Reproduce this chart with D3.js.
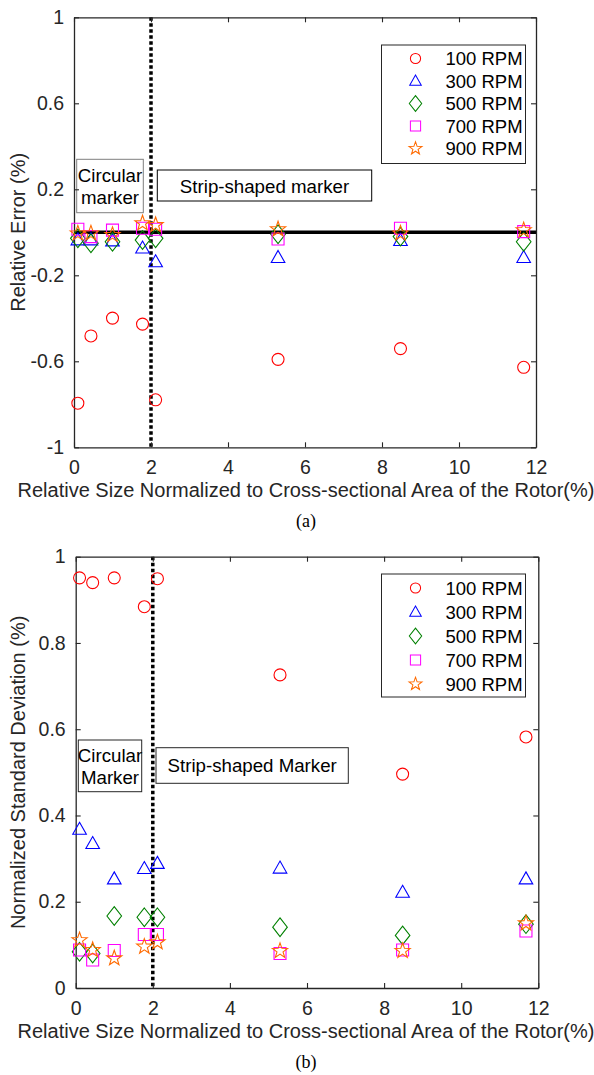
<!DOCTYPE html>
<html>
<head>
<meta charset="utf-8">
<script src="https://cdn.jsdelivr.net/npm/d3@7"></script>
<style>
  body { margin: 0; background: #fff; }
  svg { display: block; font-family: Arial, "Liberation Sans", sans-serif; }
</style>
</head>
<body>
<svg id="fig" width="594" height="1075"></svg>
<script>
// Data
// ==============================
var sizes = [0.1, 0.44, 1.0, 1.78, 2.12, 5.3, 8.48, 11.68];
var rpmLabels = ["100 RPM", "300 RPM", "500 RPM", "700 RPM", "900 RPM"];

// (a) relative error
var err100 = [-0.795, -0.482, -0.399, -0.427, -0.779, -0.591, -0.541, -0.628];
var err300 = [-0.035, -0.035, -0.04, -0.073, -0.137, -0.117, -0.038, -0.117];
var err500 = [-0.028, -0.051, -0.044, -0.036, -0.028, -0.009, -0.02, -0.044];
var err700 = [0.014, -0.02, 0.01, 0.019, 0.014, -0.031, 0.019, 0.003];
var err900 = [-0.005, -0.005, -0.012, 0.042, 0.034, 0.014, -0.005, 0.01];

// (b) normalized standard deviation
var sd100 = [0.951, 0.94, 0.951, 0.884, 0.949, 0.726, 0.496, 0.582];
var sd300 = [0.368, 0.335, 0.253, 0.277, 0.289, 0.278, 0.222, 0.253];
var sd500 = [0.084, 0.08, 0.167, 0.164, 0.164, 0.141, 0.122, 0.148];
var sd700 = [0.088, 0.065, 0.087, 0.124, 0.124, 0.08, 0.088, 0.132];
var sd900 = [0.111, 0.088, 0.069, 0.096, 0.106, 0.086, 0.086, 0.15];

var xTicks = [0, 2, 4, 6, 8, 10, 12];
var errTicks = [-1, -0.6, -0.2, 0.2, 0.6, 1];
var sdTicks = [0, 0.2, 0.4, 0.6, 0.8, 1];
var boundary = 2;

var colors = ["#ff0000", "#0000ff", "#008000", "#ff00ff", "#ff6a00"];
var shapes = ["circle", "triangle", "diamond", "square", "star"];

var svg = d3.select("#fig");
var ink = "#262626";

// marker path centred at 0,0
function markerPath(shape) {
  var p = d3.path();
  if (shape === "circle") {
    p.arc(0, 0, 6, 0, 2 * Math.PI);
  } else if (shape === "triangle") {
    p.moveTo(0, -7); p.lineTo(6.8, 5); p.lineTo(-6.8, 5); p.closePath();
  } else if (shape === "diamond") {
    p.moveTo(0, -9.3); p.lineTo(7.3, 0); p.lineTo(0, 9.3); p.lineTo(-7.3, 0); p.closePath();
  } else if (shape === "square") {
    p.rect(-6, -6, 12, 12);
  } else {
    for (var i = 0; i < 10; i++) {
      var r = i % 2 === 0 ? 8 : 3.2;
      var a = -Math.PI / 2 + i * Math.PI / 5;
      if (i === 0) p.moveTo(r * Math.cos(a), r * Math.sin(a));
      else p.lineTo(r * Math.cos(a), r * Math.sin(a));
    }
    p.closePath();
  }
  return p.toString();
}

function drawPanel(cfg) {
  var x = d3.scaleLinear().domain([0, 12]).range([cfg.left, cfg.right]);
  var y = d3.scaleLinear().domain(cfg.yDomain).range([cfg.bottom, cfg.top]);
  var g = svg.append("g");

  // text boxes
  cfg.boxes.forEach(function(b) {
    g.append("rect")
      .attr("x", b.x).attr("y", b.y).attr("width", b.w).attr("height", b.h)
      .attr("fill", "#fff").attr("stroke", b.stroke).attr("stroke-width", 1);
    b.lines.forEach(function(t, i) {
      g.append("text")
        .attr("x", b.x + b.w / 2).attr("y", b.base + i * 22)
        .attr("text-anchor", "middle").attr("font-size", 18.7).attr("fill", "#000")
        .text(t);
    });
  });

  // zero reference line
  if (cfg.zeroLine) {
    g.append("line")
      .attr("x1", x(0)).attr("x2", x(12)).attr("y1", y(0)).attr("y2", y(0))
      .attr("stroke", "#000").attr("stroke-width", 3.5);
  }

  // marker size boundary
  g.append("line")
    .attr("x1", x(boundary)).attr("x2", x(boundary))
    .attr("y1", cfg.top).attr("y2", cfg.bottom)
    .attr("stroke", "#000").attr("stroke-width", 3.5)
    .attr("stroke-dasharray", "3.5,2.5");

  // axes with inward ticks, box on
  g.append("g").attr("transform", "translate(0," + cfg.bottom + ")")
    .call(d3.axisBottom(x).tickValues(xTicks).tickSizeInner(-5).tickSizeOuter(0).tickPadding(13).tickFormat(d3.format("d")));
  g.append("g").attr("transform", "translate(0," + cfg.top + ")")
    .call(d3.axisTop(x).tickValues(xTicks).tickSizeInner(-5).tickSizeOuter(0).tickFormat(""));
  g.append("g").attr("transform", "translate(" + cfg.left + ",0)")
    .call(d3.axisLeft(y).tickValues(cfg.yTicks).tickSizeInner(-5).tickSizeOuter(0).tickPadding(10).tickFormat(function(d) { return String(d); }));
  g.append("g").attr("transform", "translate(" + cfg.right + ",0)")
    .call(d3.axisRight(y).tickValues(cfg.yTicks).tickSizeInner(-5).tickSizeOuter(0).tickFormat(""));
  g.selectAll(".domain").attr("stroke", ink).attr("stroke-width", 1.3);
  g.selectAll(".tick line").attr("stroke", ink).attr("stroke-width", 1.1);
  g.selectAll(".tick text").attr("font-size", 19.5).attr("fill", ink).attr("font-family", "Arial, 'Liberation Sans', sans-serif");

  // series
  cfg.series.forEach(function(vals, s) {
    g.selectAll(null)
      .data(vals)
      .enter().append("path")
      .attr("d", markerPath(shapes[s]))
      .attr("transform", function(d, i) { return "translate(" + x(sizes[i]) + "," + y(d) + ")"; })
      .attr("fill", "none").attr("stroke", colors[s]).attr("stroke-width", 1.1);
  });

  // legend
  var L = cfg.legend;
  g.append("rect")
    .attr("x", L.x).attr("y", L.y).attr("width", L.w).attr("height", L.h)
    .attr("fill", "#fff").attr("stroke", ink).attr("stroke-width", 1);
  rpmLabels.forEach(function(lab, i) {
    var yy = L.row0 + i * L.step;
    g.append("path")
      .attr("d", markerPath(shapes[i]))
      .attr("transform", "translate(" + (L.x + 34) + "," + yy + ") scale(0.85)")
      .attr("fill", "none").attr("stroke", colors[i]).attr("stroke-width", 1.2);
    g.append("text")
      .attr("x", L.x + 64).attr("y", yy + 6.5)
      .attr("font-size", 18.5).attr("fill", "#000")
      .text(lab);
  });

  // axis labels
  svg.append("text")
    .attr("transform", "translate(" + 25 + "," + ((cfg.top + cfg.bottom) / 2) + ") rotate(-90)")
    .attr("text-anchor", "middle").attr("font-size", 20).attr("fill", ink)
    .text(cfg.yLabel);
  svg.append("text")
    .attr("x", 306).attr("y", cfg.bottom + 50)
    .attr("text-anchor", "middle").attr("font-size", 20).attr("fill", ink)
    .text("Relative Size Normalized to Cross-sectional Area of the Rotor(%)");
  svg.append("text")
    .attr("x", 306).attr("y", cfg.bottom + 80)
    .attr("text-anchor", "middle").attr("font-size", 18).attr("fill", "#000")
    .attr("font-family", "'Times New Roman', 'Liberation Serif', serif")
    .text(cfg.caption);
}

drawPanel({
  left: 74, right: 536, top: 17.3, bottom: 447.3,
  yDomain: [-1, 1], yTicks: errTicks,
  series: [err100, err300, err500, err700, err900],
  zeroLine: true,
  yLabel: "Relative Error (%)",
  caption: "(a)",
  legend: { x: 381.5, y: 45, w: 144, h: 118.5, row0: 58.5, step: 22.5 },
  boxes: [
    { x: 76.7, y: 159.3, w: 66.6, h: 53.4, stroke: "#7f7f7f", lines: ["Circular", "marker"], base: 181.5 },
    { x: 157.3, y: 170, w: 214.4, h: 31, stroke: "#000", lines: ["Strip-shaped marker"], base: 192.5 }
  ]
});

drawPanel({
  left: 75.7, right: 538.3, top: 556.7, bottom: 988,
  yDomain: [0, 1], yTicks: sdTicks,
  series: [sd100, sd300, sd500, sd700, sd900],
  zeroLine: false,
  yLabel: "Normalized Standard Deviation (%)",
  caption: "(b)",
  legend: { x: 381.5, y: 574, w: 144, h: 123, row0: 588, step: 24 },
  boxes: [
    { x: 78.3, y: 740, w: 63.4, h: 51.7, stroke: ink, lines: ["Circular", "Marker"], base: 761.5 },
    { x: 156, y: 747.7, w: 192.3, h: 35.6, stroke: ink, lines: ["Strip-shaped Marker"], base: 772 }
  ]
});
</script>
</body>
</html>
